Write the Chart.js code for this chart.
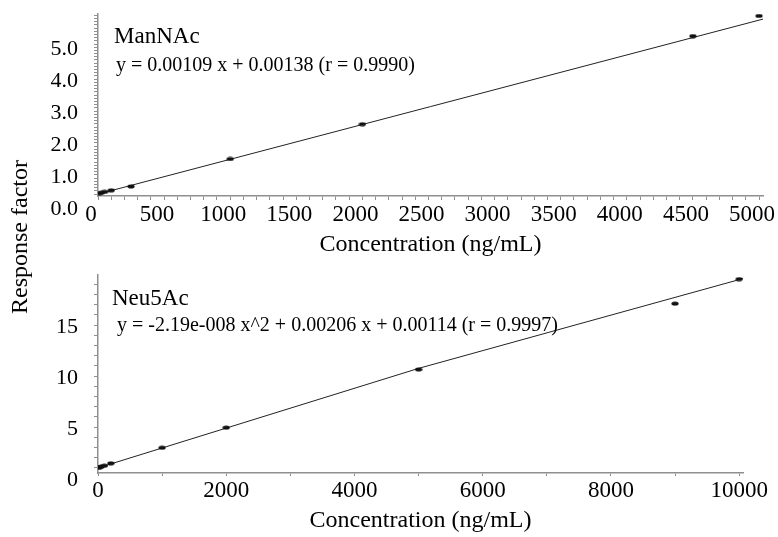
<!DOCTYPE html>
<html>
<head>
<meta charset="utf-8">
<script src="https://cdn.jsdelivr.net/npm/chart.js@4.4.0/dist/chart.umd.min.js"></script>
<style>
    body { margin: 0; background: #fff; width: 778px; height: 537px; position: relative; overflow: hidden;
           font-family: 'Liberation Serif', 'Times New Roman', serif; color: #000; }
    canvas { position: absolute; left: 0; }
    .nota { position: absolute; white-space: nowrap; line-height: 1; }
    #tituloY { position: absolute; left: 19px; top: 237px; font-size: 24px; line-height: 1; white-space: nowrap;
               transform: translate(-50%, -50%) rotate(-90deg); }
</style>
</head>
<body>
<canvas id="graficoManNAc" width="778" height="262" style="top:0;width:778px;height:262px"></canvas>
<canvas id="graficoNeu5Ac" width="778" height="275" style="top:262px;width:778px;height:275px"></canvas>

<div class="nota" style="left:114px;top:24px;font-size:23px">ManNAc</div>
<div class="nota" style="left:116px;top:54px;font-size:20px">y = 0.00109 x + 0.00138 (r = 0.9990)</div>
<div class="nota" style="left:112px;top:286px;font-size:23px">Neu5Ac</div>
<div class="nota" style="left:117px;top:314px;font-size:20px">y = -2.19e-008 x^2 + 0.00206 x + 0.00114 (r = 0.9997)</div>
<div id="tituloY">Response factor</div>

<script>
// ManNAc - pontos de calibração (ng/mL, fator de resposta)
const manConc = [10, 25, 50, 100, 250, 1000, 2000, 4500, 5000];
const manResp = [0.03, 0.04, 0.07, 0.12, 0.24, 1.10, 2.19, 4.95, 5.58];
const manRetaX = [0, 5030];
const manRetaY = [0.00, 5.48];

// Neu5Ac - pontos de calibração
const neuConc = [10, 25, 50, 100, 200, 1000, 2000, 5000, 9000, 10000];
const neuResp = [0.05, 0.08, 0.13, 0.22, 0.45, 1.98, 3.95, 9.65, 16.1, 18.5];
const neuCurvaX = [0, 5000, 10060];
const neuCurvaY = [0.00, 9.75, 18.55];

// rótulos dos eixos
const manRotulosX = [0, 500, 1000, 1500, 2000, 2500, 3000, 3500, 4000, 4500, 5000];
const manRotulosY = [0, 1, 2, 3, 4, 5];
const neuRotulosX = [0, 2000, 4000, 6000, 8000, 10000];
const neuRotulosY = [0, 5, 10, 15];

const fonte = "'Liberation Serif', 'Times New Roman', serif";

// marcas menores dos eixos
function marcas(inicio, fim, passo) {
    const lista = [];
    for (let i = 0; inicio + i * passo <= fim + 1e-9; i++) {
        lista.push(Math.round((inicio + i * passo) * 1000) / 1000);
    }
    return lista;
}

// ponto achatado, como no original
function elipse() {
    const c = document.createElement('canvas');
    c.width = 8; c.height = 5;
    const g = c.getContext('2d');
    g.fillStyle = '#111';
    g.beginPath();
    g.ellipse(4, 2.5, 3.6, 2, 0, 0, Math.PI * 2);
    g.fill();
    return c;
}

function pares(xs, ys) {
    return xs.map((x, i) => ({ x: x, y: ys[i] }));
}

function eixo(cfg) {
    return {
        type: 'linear',
        position: cfg.pos,
        min: cfg.min,
        max: cfg.max,
        afterFit: s => {
            if (cfg.pos === 'left') s.width = cfg.tam; else s.height = cfg.tam;
            // sem folga extra para os rótulos das pontas
            s.paddingTop = 0; s.paddingBottom = 0; s.paddingLeft = 0; s.paddingRight = 0;
        },
        afterBuildTicks: s => { s.ticks = cfg.marcas.map(v => ({ value: v })); },
        border: { display: true, color: '#8f8f8f', width: 1.5 },
        grid: { display: true, drawOnChartArea: false, drawTicks: true, tickLength: cfg.tick, color: '#8f8f8f', tickWidth: 1 },
        ticks: {
            autoSkip: false,
            maxRotation: 0,
            padding: cfg.padding,
            labelOffset: cfg.offset,
            color: '#000',
            font: { family: fonte, size: cfg.fonte },
            callback: v => cfg.rotulos.some(r => Math.abs(r - v) < 1e-6) ? cfg.fmt(v) : ''
        },
        title: cfg.titulo ? {
            display: true,
            text: cfg.titulo,
            color: '#000',
            font: { family: fonte, size: 24 },
            padding: { top: 0, bottom: cfg.tituloPad }
        } : { display: false }
    };
}

function criarGrafico(id, pontos, reta, escalas, padding) {
    const ctx = document.getElementById(id).getContext('2d');
    return new Chart(ctx, {
        type: 'scatter',
        data: {
            datasets: [{
                data: pontos,
                pointStyle: elipse(),
                pointRadius: 3,
                showLine: false
            }, {
                data: reta,
                showLine: true,
                borderColor: '#222',
                borderWidth: 1,
                pointRadius: 0,
                fill: false
            }]
        },
        options: {
            responsive: false,
            animation: false,
            layout: { padding: padding },
            plugins: { legend: { display: false }, tooltip: { enabled: false } },
            scales: escalas
        }
    });
}

criarGrafico('graficoManNAc', pares(manConc, manResp), pares(manRetaX, manRetaY), {
    x: eixo({ pos: 'bottom', min: 0, max: 5030, tam: 66, tick: 4, padding: 1, offset: -7, fonte: 23,
              marcas: marcas(0, 5000, 100), rotulos: manRotulosX, fmt: v => String(v),
              titulo: 'Concentration (ng/mL)', tituloPad: 3 }),
    y: eixo({ pos: 'left', min: -0.06, max: 5.64, tam: 98, tick: 4, padding: 16, offset: 15, fonte: 22,
              marcas: marcas(0, 5.6, 0.1), rotulos: manRotulosY, fmt: v => v.toFixed(1) })
}, { top: 14, right: 15, left: 0, bottom: 0 });

criarGrafico('graficoNeu5Ac', pares(neuConc, neuResp), pares(neuCurvaX, neuCurvaY), {
    x: eixo({ pos: 'bottom', min: 0, max: 10060, tam: 64, tick: 3, padding: 1, offset: 0, fonte: 23,
              marcas: marcas(0, 10000, 1000), rotulos: neuRotulosX, fmt: v => String(v),
              titulo: 'Concentration (ng/mL)', tituloPad: 2 }),
    y: eixo({ pos: 'left', min: -0.5, max: 18.9, tam: 98, tick: 4, padding: 16, offset: 12, fonte: 22,
              marcas: marcas(0, 18, 1), rotulos: neuRotulosY, fmt: v => String(v) })
}, { top: 13, right: 35, left: 0, bottom: 0 });
</script>
</body>
</html>
